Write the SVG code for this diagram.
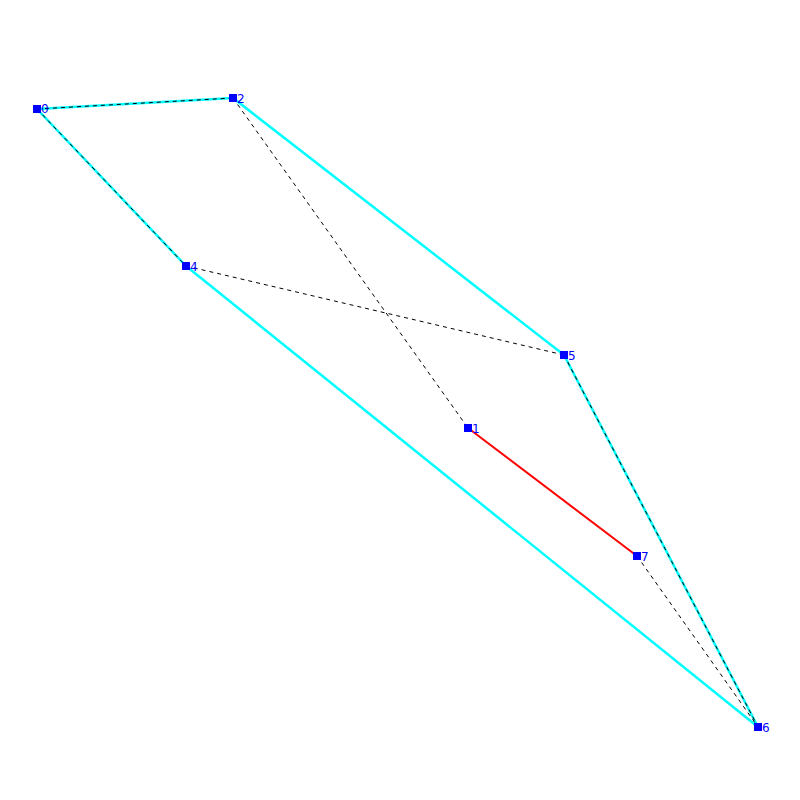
<svg xmlns="http://www.w3.org/2000/svg" width="800" height="800" viewBox="0 0 800 800">
<style>
.hull{stroke:#00ffff;stroke-width:2.5;fill:none}
.dash{stroke:#000;stroke-width:1;stroke-dasharray:4 4;fill:none}
.red{stroke:#ff0000;stroke-width:2;fill:none}
.n rect{fill:#0000ff}
.n text{fill:#0000ff;font-family:"DejaVu Sans",sans-serif;font-size:12px}
</style>
<rect width="800" height="800" fill="#fff"/>
<g id="connectors">
<line class="hull" x1="37" y1="109" x2="233" y2="98"/>
<line class="hull" x1="233" y1="98" x2="564" y2="355"/>
<line class="hull" x1="564" y1="355" x2="758" y2="727"/>
<line class="hull" x1="758" y1="727" x2="186" y2="266"/>
<line class="hull" x1="186" y1="266" x2="37" y2="109"/>
<line class="dash" x1="37" y1="109" x2="233" y2="98"/>
<line class="dash" x1="37" y1="109" x2="186" y2="266"/>
<line class="dash" x1="233" y1="98" x2="468" y2="428"/>
<line class="dash" x1="186" y1="266" x2="564" y2="355"/>
<line class="dash" x1="564" y1="355" x2="758" y2="727"/>
<line class="dash" x1="637" y1="556" x2="758" y2="727"/>
<line class="red" x1="468" y1="428" x2="637" y2="556"/>
</g>
<g id="node0" class="n"><rect x="33" y="105" width="8" height="8"/><text x="41" y="113">0</text></g>
<g id="node1" class="n"><rect x="464" y="424" width="8" height="8"/><text x="472" y="433">1</text></g>
<g id="node2" class="n"><rect x="229" y="94" width="8" height="8"/><text x="237" y="103">2</text></g>
<g id="node4" class="n"><rect x="182" y="262" width="8" height="8"/><text x="190" y="271">4</text></g>
<g id="node5" class="n"><rect x="560" y="351" width="8" height="8"/><text x="568" y="360">5</text></g>
<g id="node6" class="n"><rect x="754" y="723" width="8" height="8"/><text x="762" y="732">6</text></g>
<g id="node7" class="n"><rect x="633" y="552" width="8" height="8"/><text x="641" y="561">7</text></g>
</svg>
